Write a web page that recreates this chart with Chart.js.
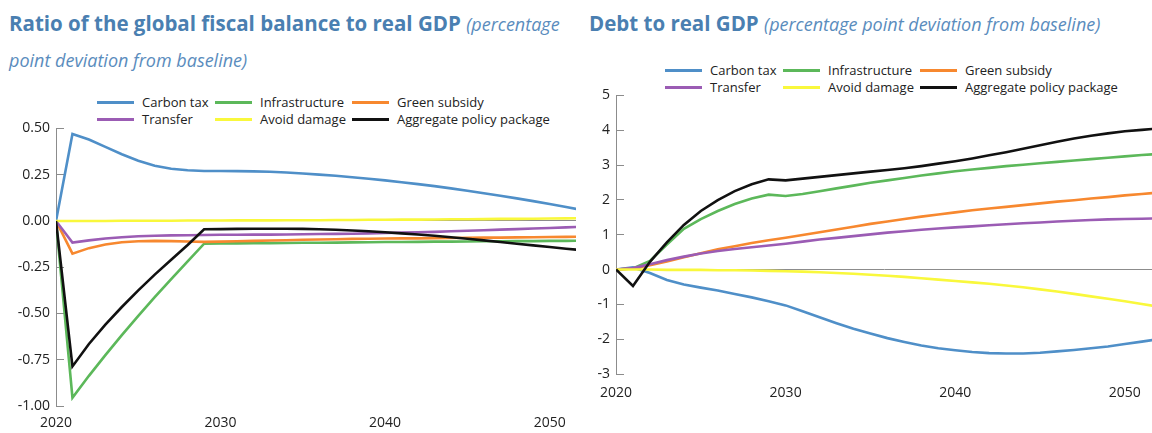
<!DOCTYPE html>
<html>
<head>
<meta charset="utf-8">
<script src="https://cdn.jsdelivr.net/npm/chart.js@4.4.0/dist/chart.umd.min.js"></script>
<style>
  body { margin: 0; width: 1152px; height: 433px; background: #fff; position: relative; overflow: hidden; font-family: "Open Sans", sans-serif; }
  .title { position: absolute; color: #4a7fb1; font-size: 20.5px; font-weight: bold; white-space: nowrap; line-height: 35px; }
  .title i { font-weight: normal; font-size: 18px; color: #5a8cbd; }
  .legend { position: absolute; display: grid; grid-template-columns: 118px 137px auto; font-size: 13px; color: #222; line-height: 17px; }
  .legend .item { display: flex; align-items: center; white-space: nowrap; }
  .legend .swatch { display: inline-block; width: 37px; height: 3px; margin-right: 8px; }
  .box { position: absolute; }
</style>
</head>
<body>
<div class="title" style="left:9px; top:6px;">Ratio of the global fiscal balance to real GDP <i>(percentage</i><br><i>point deviation from baseline)</i></div>
<div class="title" style="left:589px; top:6px;">Debt to real GDP <i>(percentage point deviation from baseline)</i></div>
<div class="legend" id="legend-left" style="left:97px; top:94px;"></div>
<div class="legend" id="legend-right" style="left:665px; top:62px;"></div>
<div class="box" style="left:0; top:106px; width:580px; height:327px;"><canvas id="fiscal-chart"></canvas></div>
<div class="box" style="left:580px; top:73px; width:572px; height:360px;"><canvas id="debt-chart"></canvas></div>
<script>
// Années
const years = [2020, 2021, 2022, 2023, 2024, 2025, 2026, 2027, 2028, 2029, 2030,
  2031, 2032, 2033, 2034, 2035, 2036, 2037, 2038, 2039, 2040,
  2041, 2042, 2043, 2044, 2045, 2046, 2047, 2048, 2049, 2050, 2051, 2052];
const yearTicks = [2020, 2030, 2040, 2050];

const seriesNames = ['Carbon tax', 'Infrastructure', 'Green subsidy', 'Transfer', 'Avoid damage', 'Aggregate policy package'];
const seriesColors = ['#4f8fc8', '#5cb85a', '#f7882f', '#9b5cb4', '#f9f83c', '#111111'];

// Solde budgétaire / PIB
const carbonTaxFB = [0, 0.47, 0.44, 0.40, 0.36, 0.325, 0.298, 0.282, 0.274, 0.27, 0.27,
  0.269, 0.268, 0.266, 0.262, 0.256, 0.25, 0.244, 0.236, 0.228, 0.219,
  0.209, 0.199, 0.188, 0.176, 0.163, 0.15, 0.136, 0.122, 0.107, 0.091, 0.075, 0.058];
const infraFB = [0, -0.955, -0.837, -0.725, -0.617, -0.513, -0.412, -0.314, -0.218, -0.123, -0.122,
  -0.121, -0.12, -0.12, -0.119, -0.118, -0.118, -0.117, -0.116, -0.115, -0.114,
  -0.114, -0.113, -0.112, -0.112, -0.111, -0.11, -0.11, -0.109, -0.109, -0.108, -0.108, -0.107];
const greenSubFB = [0, -0.177, -0.147, -0.127, -0.115, -0.11, -0.108, -0.109, -0.111, -0.113, -0.112,
  -0.11, -0.108, -0.106, -0.104, -0.102, -0.1, -0.099, -0.097, -0.096, -0.095,
  -0.094, -0.094, -0.093, -0.092, -0.091, -0.09, -0.09, -0.089, -0.088, -0.087, -0.086, -0.085];
const transferFB = [0, -0.117, -0.105, -0.095, -0.088, -0.083, -0.08, -0.078, -0.077, -0.076, -0.075,
  -0.075, -0.074, -0.074, -0.073, -0.072, -0.071, -0.07, -0.069, -0.067, -0.065,
  -0.063, -0.061, -0.059, -0.056, -0.053, -0.05, -0.047, -0.044, -0.041, -0.038, -0.035, -0.031];
const avoidFB = [0, 0, 0, 0, 0.001, 0.001, 0.001, 0.001, 0.002, 0.002, 0.002,
  0.003, 0.003, 0.003, 0.004, 0.004, 0.004, 0.005, 0.005, 0.006, 0.006,
  0.007, 0.007, 0.008, 0.009, 0.009, 0.01, 0.011, 0.011, 0.012, 0.013, 0.014, 0.015];
const aggFB = [0, -0.786, -0.665, -0.56, -0.465, -0.375, -0.29, -0.21, -0.13, -0.045, -0.044,
  -0.043, -0.042, -0.042, -0.042, -0.043, -0.045, -0.048, -0.052, -0.056, -0.061,
  -0.067, -0.073, -0.08, -0.088, -0.096, -0.105, -0.114, -0.123, -0.132, -0.141, -0.15, -0.158];
const fiscalTicks = [0.5, 0.25, 0, -0.25, -0.5, -0.75, -1.0];

// Dette / PIB
const carbonTaxDebt = [0, 0.06, -0.1, -0.3, -0.43, -0.52, -0.6, -0.7, -0.8, -0.91, -1.03,
  -1.2, -1.37, -1.54, -1.7, -1.84, -1.97, -2.08, -2.18, -2.26, -2.32,
  -2.37, -2.4, -2.41, -2.41, -2.39, -2.35, -2.31, -2.26, -2.21, -2.14, -2.07, -2.0];
const infraDebt = [0, 0.03, 0.25, 0.72, 1.17, 1.45, 1.68, 1.88, 2.04, 2.15, 2.11,
  2.17, 2.25, 2.33, 2.41, 2.49, 2.56, 2.63, 2.7, 2.76, 2.82,
  2.87, 2.92, 2.97, 3.01, 3.05, 3.09, 3.13, 3.17, 3.21, 3.25, 3.29, 3.32];
const greenSubDebt = [0, 0.03, 0.12, 0.23, 0.35, 0.47, 0.58, 0.67, 0.76, 0.84, 0.91,
  0.99, 1.07, 1.15, 1.23, 1.31, 1.38, 1.45, 1.52, 1.58, 1.64,
  1.7, 1.75, 1.8, 1.85, 1.9, 1.95, 1.99, 2.04, 2.08, 2.13, 2.17, 2.21];
const transferDebt = [0, 0.04, 0.15, 0.27, 0.37, 0.46, 0.53, 0.59, 0.64, 0.69, 0.74,
  0.8, 0.86, 0.91, 0.96, 1.01, 1.06, 1.1, 1.14, 1.18, 1.21,
  1.24, 1.27, 1.3, 1.33, 1.35, 1.38, 1.4, 1.42, 1.44, 1.45, 1.46, 1.47];
const avoidDebt = [0, 0, 0, -0.01, -0.01, -0.01, -0.02, -0.02, -0.03, -0.04, -0.05,
  -0.06, -0.08, -0.1, -0.12, -0.15, -0.18, -0.21, -0.25, -0.29, -0.33,
  -0.37, -0.41, -0.46, -0.51, -0.57, -0.63, -0.7, -0.77, -0.84, -0.91, -0.99, -1.07];
const aggDebt = [0, -0.47, 0.22, 0.78, 1.28, 1.68, 1.99, 2.25, 2.45, 2.59, 2.56,
  2.61, 2.66, 2.71, 2.76, 2.81, 2.86, 2.91, 2.97, 3.04, 3.11,
  3.19, 3.28, 3.37, 3.47, 3.57, 3.67, 3.76, 3.84, 3.91, 3.97, 4.01, 4.05];
const debtTicks = [5, 4, 3, 2, 1, 0, -1, -2, -3];

const axisGrey = '#8c8c8c';
const tickFont = { family: '"Open Sans", sans-serif', size: 14 };

// Légende HTML en trois colonnes
function construireLegende(id) {
  const el = document.getElementById(id);
  seriesNames.forEach((nom, i) => {
    const item = document.createElement('span');
    item.className = 'item';
    item.innerHTML = `<span class="swatch" style="background:${seriesColors[i]}"></span>${nom}`;
    el.appendChild(item);
  });
}

function creerGraphique(canvasId, seriesList, yTicks, yMin, yMax, formatY, axeLargeur, axeHauteur, padRight, padX) {
  const ctx = document.getElementById(canvasId).getContext('2d');
  const datasets = seriesList.map((valeurs, i) => ({
    label: seriesNames[i],
    data: years.map((an, j) => ({ x: an, y: valeurs[j] })),
    borderColor: seriesColors[i],
    borderWidth: 2.6,
    pointRadius: 0,
    tension: 0,
    fill: false
  }));
  // noir au-dessus
  datasets.reverse();
  return new Chart(ctx, {
    type: 'line',
    data: { datasets: datasets },
    options: {
      responsive: true,
      maintainAspectRatio: false,
      animation: false,
      layout: { padding: { top: 7, right: padRight, left: 0, bottom: 0 } },
      plugins: { legend: { display: false }, tooltip: { enabled: false } },
      scales: {
        x: {
          type: 'linear',
          min: 2020,
          max: 2051.6,
          grid: { display: false },
          border: { display: false },
          afterBuildTicks: s => { s.ticks = yearTicks.map(v => ({ value: v })); },
          afterFit: s => { s.height = axeHauteur; },
          ticks: { font: tickFont, color: '#222', padding: padX, maxRotation: 0, callback: v => String(v) }
        },
        y: {
          min: yMin,
          max: yMax,
          afterBuildTicks: s => { s.ticks = yTicks.map(v => ({ value: v })); },
          afterFit: s => { s.width = axeLargeur; },
          grid: {
            drawOnChartArea: true,
            color: c => (c.tick && c.tick.value === 0) ? axisGrey : 'rgba(0,0,0,0)',
            tickColor: axisGrey,
            tickLength: -8,
            lineWidth: 1
          },
          border: { display: true, color: axisGrey, width: 1 },
          ticks: { font: tickFont, color: '#222', padding: 14, callback: formatY }
        }
      }
    }
  });
}

construireLegende('legend-left');
construireLegende('legend-right');

creerGraphique('fiscal-chart',
  [carbonTaxFB, infraFB, greenSubFB, transferFB, avoidFB, aggFB],
  fiscalTicks, -1.0, 0.5, v => v.toFixed(2), 56, 27, 4, 1);

creerGraphique('debt-chart',
  [carbonTaxDebt, infraDebt, greenSubDebt, transferDebt, avoidDebt, aggDebt],
  debtTicks, -3, 5, v => String(v), 36, 59, 0, 3);
</script>
</body>
</html>
